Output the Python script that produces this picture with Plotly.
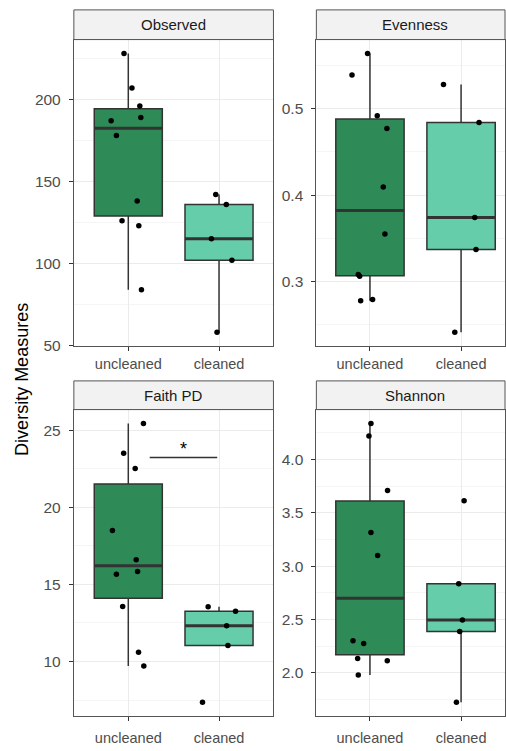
import numpy as np
import plotly.graph_objects as go

W, H = 506, 751

categories = ["uncleaned", "cleaned"]
panels = ["Observed", "Evenness", "Faith PD", "Shannon"]

obs_unc = [228, 207, 196, 189, 187, 178, 138, 126, 123, 84]
obs_unc_jit = [-0.047, 0.04, 0.127, 0.138, -0.189, -0.131, 0.098, -0.069, 0.116, 0.145]
obs_cln = [142, 136, 115, 102, 58]
obs_cln_jit = [-0.036, 0.08, -0.084, 0.142, -0.022]

even_unc = [0.564, 0.539, 0.492, 0.477, 0.4095, 0.355, 0.308, 0.306, 0.2775, 0.279]
even_unc_jit = [-0.026, -0.197, 0.08, 0.186, 0.146, 0.164, -0.128, -0.113, -0.102, 0.029]
even_cln = [0.528, 0.484, 0.374, 0.337, 0.241]
even_cln_jit = [-0.193, 0.197, 0.15, 0.164, -0.069]

faith_unc = [25.43, 23.5, 22.52, 18.5, 16.6, 15.66, 15.83, 13.57, 10.6, 9.7]
faith_unc_jit = [0.167, -0.051, 0.076, -0.175, 0.087, -0.131, 0.102, -0.062, 0.113, 0.171]
faith_cln = [13.55, 13.25, 12.31, 11.03, 7.35]
faith_cln_jit = [-0.12, 0.182, 0.084, 0.098, -0.182]

shan_unc = [4.336, 4.219, 3.71, 3.315, 3.099, 2.302, 2.275, 2.136, 2.114, 1.981]
shan_unc_jit = [0.011, -0.011, 0.193, 0.011, 0.084, -0.186, -0.069, -0.135, 0.19, -0.128]
shan_cln = [3.614, 2.836, 2.497, 2.389, 1.725]
shan_cln_jit = [0.033, -0.026, 0.015, -0.015, -0.051]

y_dtick = [50, 0.1, 5, 0.5]

# significance bracket (Faith PD)
sig_x = [1.236, 1.98]
sig_y = 23.23
sig_label = "*"
sig_label_y = 23.8

data = [
    (obs_unc, obs_unc_jit, obs_cln, obs_cln_jit),
    (even_unc, even_unc_jit, even_cln, even_cln_jit),
    (faith_unc, faith_unc_jit, faith_cln, faith_cln_jit),
    (shan_unc, shan_unc_jit, shan_cln, shan_cln_jit),
]

FILLS = ["#2E8B57", "#66CDAA"]
EDGE = "#333333"
BORDER = "#555555"

# panel pixel boxes: (x0, x1, y0, y1), strip top
px_boxes = [
    (74, 274, 40, 350, 10),
    (317, 506, 40, 350, 10),
    (74, 274, 414, 724, 385),
    (317, 506, 414, 724, 385),
]
x_ranges = [[0.4, 2.6], [0.412, 2.482], [0.4, 2.6], [0.412, 2.482]]
x_standoff = [0, 0, 4, 4]

fig = go.Figure()
layout = dict(width=W, height=H, margin=dict(l=0, r=0, t=0, b=0),
              paper_bgcolor="white", plot_bgcolor="white", showlegend=False,
              font=dict(family="Liberation Sans, Arial, sans-serif"))
shapes = []
annotations = []


def box_stats(v):
    v = np.asarray(v, dtype=float)
    q1, med, q3 = np.percentile(v, [25, 50, 75])
    iqr = q3 - q1
    lo = v[v >= q1 - 1.5 * iqr].min()
    hi = v[v <= q3 + 1.5 * iqr].max()
    return q1, med, q3, lo, hi


for i, (unc, unc_j, cln, cln_j) in enumerate(data):
    k = "" if i == 0 else str(i + 1)
    xa, ya = "x" + k, "y" + k
    groups = [(unc, unc_j), (cln, cln_j)]
    for c, (vals, jit) in enumerate(groups):
        pos = c + 1
        q1, med, q3, lo, hi = box_stats(vals)
        fig.add_trace(go.Box(x=[pos], q1=[q1], median=[med], q3=[q3],
                             lowerfence=[lo], upperfence=[hi], width=0.75,
                             whiskerwidth=0,
                             fillcolor=FILLS[c], line=dict(color=EDGE, width=1.5),
                             boxpoints=False, xaxis=xa, yaxis=ya, hoverinfo="skip"))
        fig.add_trace(go.Scatter(x=[pos - 0.375, pos + 0.375], y=[med, med], mode="lines",
                                 line=dict(color=EDGE, width=3), xaxis=xa, yaxis=ya,
                                 hoverinfo="skip"))
    for c, (vals, jit) in enumerate(groups):
        pos = c + 1
        fig.add_trace(go.Scatter(x=[pos + j for j in jit], y=vals, mode="markers",
                                 marker=dict(color="black", size=5.5), xaxis=xa, yaxis=ya,
                                 hoverinfo="skip"))

    allv = list(unc) + list(cln)
    mn, mx = min(allv), max(allv)
    pad = 0.05 * (mx - mn)
    x0, x1, y0, y1, st = px_boxes[i]
    dom_x = [x0 / W, x1 / W]
    dom_y = [1 - y1 / H, 1 - y0 / H]
    dt = y_dtick[i]
    layout["xaxis" + k] = dict(domain=dom_x, anchor=ya, range=x_ranges[i],
                               tickvals=[1, 2], ticktext=categories,
                               showgrid=True, gridcolor="#EBEBEB", gridwidth=1,
                               zeroline=False, showline=True, linecolor=BORDER,
                               linewidth=1, mirror=True, ticks="outside", ticklen=4,
                               ticklabelstandoff=x_standoff[i],
                               tickcolor=EDGE, tickfont=dict(size=14.5, color="#4D4D4D"))
    layout["yaxis" + k] = dict(domain=dom_y, anchor=xa, range=[mn - pad, mx + pad],
                               tick0=0, dtick=dt,
                               tickformat=".1f" if dt < 1 else "d",
                               showgrid=True, gridcolor="#EBEBEB", gridwidth=1,
                               minor=dict(dtick=dt / 2, tick0=0, showgrid=True,
                                          gridcolor="#F5F5F5", gridwidth=1, ticks=""),
                               zeroline=False, showline=True, linecolor=BORDER,
                               linewidth=1, mirror=True, ticks="outside", ticklen=4,
                               ticklabelstandoff=5,
                               tickcolor=EDGE, tickfont=dict(size=15.5, color="#4D4D4D"))
    # strip
    shapes.append(dict(type="rect", xref="paper", yref="paper",
                       x0=x0 / W, x1=x1 / W, y0=1 - y0 / H, y1=1 - st / H,
                       fillcolor="#F2F2F2", line=dict(color=BORDER, width=1), layer="above"))
    annotations.append(dict(xref="paper", yref="paper", x=(x0 + min(x1, 505) + (0 if x1 < 500 else 10)) / 2 / W,
                            y=1 - (y0 + st) / 2 / H, text=panels[i], showarrow=False,
                            font=dict(size=15, color="#1A1A1A"), xanchor="center",
                            yanchor="middle"))

# significance
shapes.append(dict(type="line", xref="x3", yref="y3", x0=sig_x[0], x1=sig_x[1],
                   y0=sig_y, y1=sig_y, line=dict(color=EDGE, width=1.5)))
annotations.append(dict(xref="x3", yref="y3", x=(sig_x[0] + sig_x[1]) / 2, y=sig_label_y,
                        text=sig_label, showarrow=False, font=dict(size=18, color="black"),
                        xanchor="center", yanchor="middle"))

annotations.append(dict(xref="paper", yref="paper", x=22 / W, y=1 - 383 / H,
                        text="Diversity Measures", textangle=-90, showarrow=False,
                        font=dict(size=18, color="black"), xanchor="center", yanchor="middle"))

layout["shapes"] = shapes
layout["annotations"] = annotations
fig.update_layout(**layout)
fig.write_html("out.html", config={"displayModeBar": False},
               post_script="document.body.style.margin='0';document.body.style.overflow='hidden';")
